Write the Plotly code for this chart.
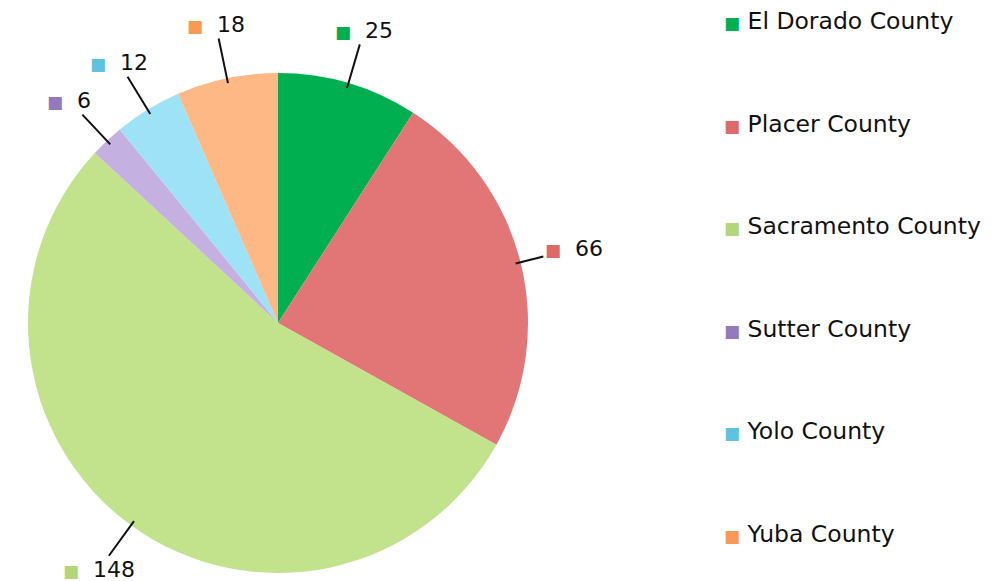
import math
import plotly.graph_objects as go

# ---- data ----
counties = ["El Dorado County", "Placer County", "Sacramento County",
            "Sutter County", "Yolo County", "Yuba County"]
counts = [25, 66, 148, 6, 12, 18]

# ---- styles ----
slice_colors = ["#00b050", "#e27575", "#c2e28c", "#c5b0e2", "#9ee2f7", "#fdb886"]
key_colors = ["#00b050", "#dd6a68", "#b2d67a", "#9479bd", "#5fc3e0", "#f89a55"]

W, H = 992, 581
CX, CY, R = 278, 323, 250          # pie centre / radius in pixels
FONT = "DejaVu Sans"

fig = go.Figure()
fig.add_trace(go.Pie(
    labels=counties, values=counts, sort=False, direction="clockwise",
    rotation=0, textinfo="none", hoverinfo="label+value",
    marker=dict(colors=slice_colors, line=dict(width=0)),
    domain=dict(x=[(CX - R) / W, (CX + R) / W],
                y=[1 - (CY + R) / H, 1 - (CY - R) / H]),
    showlegend=False,
))

annotations = []
# data labels with leader lines, positioned from the slice mid-angles
total = sum(counts)
cum = 0
L = 60
for name, v, kc in zip(counties, counts, key_colors):
    mid = (cum + v / 2) / total * 2 * math.pi
    cum += v
    sx, sy = math.sin(mid), math.cos(mid)
    tip_x = CX + 0.98 * R * sx
    tip_y = CY - 0.98 * R * sy
    annotations.append(dict(
        x=tip_x / W, y=1 - tip_y / H, xref="paper", yref="paper",
        ax=L * sx, ay=-L * sy, showarrow=True, arrowhead=0,
        arrowwidth=2, arrowcolor="#111111",
        text=f"<span style='color:{kc};font-size:17px'>■</span>  {v}",
        font=dict(family=FONT, size=22, color="#111111"),
    ))

# legend column on the right
for i, (name, kc) in enumerate(zip(counties, key_colors)):
    ypx = 21 + i * 102.6
    annotations.append(dict(
        x=722 / W, y=1 - ypx / H, xref="paper", yref="paper",
        xanchor="left", yanchor="middle", showarrow=False,
        text=f"<span style='color:{kc};font-size:17px'>■</span> {name}",
        font=dict(family=FONT, size=23.5, color="#111111"),
    ))

fig.update_layout(
    width=W, height=H, margin=dict(l=0, r=0, t=0, b=0),
    paper_bgcolor="white", plot_bgcolor="white",
    annotations=annotations,
)
fig.write_html("out.html")
